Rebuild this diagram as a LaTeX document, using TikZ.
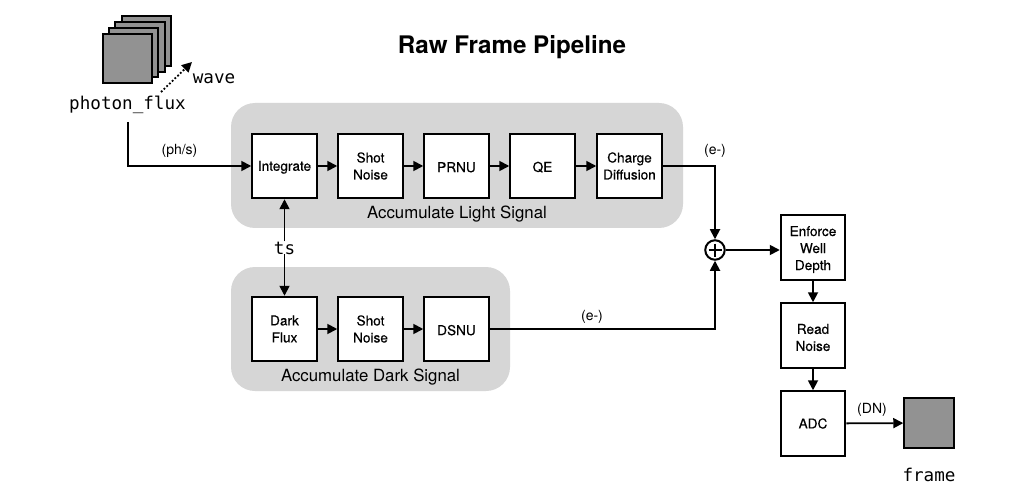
\documentclass[tikz,border=0pt]{standalone}
\usepackage{fontspec}
\setmainfont{TeX Gyre Heros}
\newfontfamily\boxf[FakeBold=0.35]{TeX Gyre Heros}
\newfontfamily\monof{DejaVu Sans Mono}
\usetikzlibrary{arrows.meta,positioning,calc}
\definecolor{grp}{HTML}{D6D6D6}
\definecolor{img}{HTML}{929292}
\tikzset{
 blockbox/.style={draw=black,line width=2pt,fill=white,minimum width=64.5pt,minimum height=64.5pt,inner sep=0pt,align=center,font=\boxf\fontsize{13.6}{17}\selectfont,text=black,execute at begin node={\rule{0pt}{#1}}},
 blockbox/.default=12.5pt,
 group/.style={fill=grp,rounded corners=24pt,draw=none,inner sep=0pt},
 imgbox/.style={draw=black,line width=2pt,fill=img,minimum width=49.5pt,minimum height=49.5pt,inner sep=0pt},
 mono/.style={font=\monof\fontsize{17.6}{20}\selectfont,inner sep=0pt},
 lab/.style={font=\fontsize{14}{16}\selectfont,inner sep=0pt},
 grplab/.style={font=\fontsize{16.8}{18}\selectfont,inner sep=0pt},
 conn/.style={line width=1.8pt,-{Triangle[length=10pt,width=10pt]}},
}
\begin{document}
\begin{tikzpicture}[x=1pt,y=-1pt]
\useasboundingbox (0,0) rectangle (1024,494);
\fill[white] (0,0) rectangle (1024,494);
\node[group,minimum width=452pt,minimum height=125pt] (light) at (457,165.5) {};
\node[group,minimum width=279pt,minimum height=124pt] (dark) at (370.5,329) {};
\node[font=\fontsize{24.2}{28}\selectfont\bfseries] (title) at (512,47.5) {Raw Frame Pipeline};
\node[imgbox] (s4) at (146.5,41) {};
\node[imgbox] (s3) at (140,47) {};
\node[imgbox] (s2) at (133.5,52.5) {};
\node[imgbox] (s1) at (127.5,58.5) {};
\node[mono,anchor=base] (flux) at (127.5,110) {photon\_flux};
\node[mono,anchor=base] (wave) at (214,84) {wave};
\coordinate (fluxout) at (128,122);
\coordinate (dots) at (161,92);
\coordinate (dote) at (192,62);
\node[blockbox] (integ) at (284.5,166) {Integrate};
\node[blockbox] (shot1) at (370.5,166) {Shot\\Noise};
\node[blockbox] (prnu) at (456.5,166) {PRNU};
\node[blockbox] (qe) at (542.5,166) {QE};
\node[blockbox] (charge) at (629.5,166) {Charge\\Diffusion};
\node[grplab] (llab) at (457,214) {Accumulate Light Signal};
\node[mono,anchor=base] (ts) at (284.5,254) {ts};
\node[blockbox] (dflux) at (284.5,329) {Dark\\Flux};
\node[blockbox] (shot2) at (370.5,329) {Shot\\Noise};
\node[blockbox] (dsnu) at (456.5,329) {DSNU};
\node[grplab] (dlab) at (370.5,377.5) {Accumulate Dark Signal};
\node[draw=black,line width=2pt,fill=white,circle,minimum size=19.5pt,inner sep=0pt] (sum) at (715,250) {};
\draw[line width=2pt] (708.5,250) -- (721.5,250) (715,243.5) -- (715,256.5);
\node[blockbox=0pt] (well) at (813,247.5) {\mbox{}\\[-3pt]Enforce\\Well\\Depth};
\node[blockbox=0pt] (read) at (813,335.5) {\mbox{}\\[-3pt]Read\\Noise};
\node[blockbox=1pt] (adc) at (813,423.5) {ADC};
\node[imgbox] (frame) at (929,423) {};
\node[mono,anchor=base] (flab) at (929,481) {frame};
\draw[conn] (fluxout) |- (integ.west);
\node[lab] (ph) at (179.5,150.5) {(ph/s)};
\draw[line width=1.8pt,dotted,-{Triangle[length=10pt,width=10pt]}] (dots) -- (dote);
\draw[conn] (integ) -- (shot1);
\draw[conn] (shot1) -- (prnu);
\draw[conn] (prnu) -- (qe);
\draw[conn] (qe) -- (charge);
\draw[conn] (ts.north) -- (integ.south);
\draw[conn] (ts.south) -- (dflux.north);
\draw[conn] (dflux) -- (shot2);
\draw[conn] (shot2) -- (dsnu);
\draw[conn] (charge.east) -| (sum.north);
\draw[conn] (dsnu.east) -| (sum.south);
\node[lab] (e1) at (715,151) {(e-)};
\node[lab] (e2) at (592,316.5) {(e-)};
\draw[conn] (sum.east) -- (sum.east -| well.west);
\draw[conn] (well) -- (read);
\draw[conn] (read) -- (adc);
\draw[conn] (adc) -- (frame);
\node[lab] (dn) at (872,409.5) {(DN)};
\end{tikzpicture}
\end{document}
